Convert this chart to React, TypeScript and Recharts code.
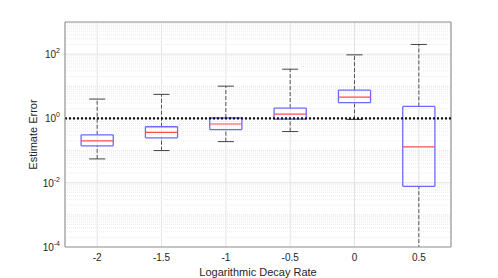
import React from 'react';
import {
  ComposedChart,
  XAxis,
  YAxis,
  CartesianGrid,
  ReferenceLine,
  Scatter,
} from 'recharts';

// decay rates (x positions of the boxes)
const rates = [-2, -1.5, -1, -0.5, 0, 0.5];
const whiskerLow = [0.055, 0.1, 0.19, 0.39, 0.93, 0.00001];
const q1 = [0.14, 0.25, 0.45, 0.95, 3.1, 0.0077];
const medians = [0.2, 0.37, 0.67, 1.37, 4.6, 0.13];
const q3 = [0.31, 0.55, 1.03, 2.1, 7.6, 2.36];
const whiskerHigh = [4.0, 5.6, 10.1, 34, 95, 200];

const yTicks = [1e-4, 1e-2, 1, 1e2];
const yExponents = ['-4', '-2', '0', '2'];
const oddDecades = [1e-3, 1e-1, 1e1];

// minor grid lines 2..9 in every decade
const minorGrid: number[] = [];
for (let k = -4; k <= 2; k++) {
  for (let m = 2; m <= 9; m++) minorGrid.push(m * Math.pow(10, k));
}

const BOX_HALF = 0.125;
const CAP_HALF = 0.0625;
const FONT = '"Liberation Sans", Arial, Helvetica, sans-serif';
const BOX_COLOR = '#6b6bff';

const YTick = (props: any) => {
  const { x, y, payload } = props;
  const idx = yTicks.indexOf(payload.value);
  return (
    <text x={x + 3} y={y + 4} textAnchor="end" fontSize={10} fill="#262626" fontFamily={FONT}>
      <tspan>10</tspan>
      <tspan dy={-5} fontSize={7}>{yExponents[idx]}</tspan>
    </text>
  );
};

export default function App() {
  const scatterData = rates.map((r, i) => ({ x: r, y: medians[i] }));
  return (
    <div style={{ position: 'absolute', left: 0, top: 0, background: '#fff' }}>
      <ComposedChart
        width={498}
        height={278}
        margin={{ top: 22, right: 47, bottom: 0, left: 0 }}
        style={{ fontFamily: FONT }}
      >
        <CartesianGrid horizontal={false} stroke="#e3e3e3" strokeDasharray="" />
        <XAxis
          type="number"
          dataKey="x"
          domain={[-2.25, 0.75]}
          ticks={rates}
          allowDataOverflow
          height={31}
          tickLine={false}
          axisLine={{ stroke: '#8a8a8a' }}
          tick={{ fontSize: 10, fill: '#262626' }}
          tickMargin={1}
          label={{
            value: 'Logarithmic Decay Rate',
            position: 'insideBottom',
            offset: 2,
            fontSize: 11,
            fill: '#262626',
          }}
        />
        <YAxis
          type="number"
          dataKey="y"
          scale="log"
          domain={[1e-4, 1e3]}
          ticks={yTicks}
          allowDataOverflow
          width={65}
          tickLine={false}
          axisLine={{ stroke: '#8a8a8a' }}
          tick={<YTick />}
          label={{
            value: 'Estimate Error',
            angle: -90,
            position: 'insideLeft',
            offset: 33,
            fontSize: 11,
            fill: '#262626',
            style: { textAnchor: 'middle' },
          }}
        />
        {minorGrid.map((v) => (
          <ReferenceLine key={'m' + v} y={v} stroke="#ececec" strokeDasharray="1 1" ifOverflow="hidden" />
        ))}
        {oddDecades.map((v) => (
          <ReferenceLine key={'o' + v} y={v} stroke="#e6e6e6" strokeDasharray="1 1" />
        ))}
        {yTicks.slice(1).map((v) => (
          <ReferenceLine key={'g' + v} y={v} stroke="#e3e3e3" />
        ))}
        {/* top and right frame */}
        <ReferenceLine y={1e3} stroke="#8a8a8a" />
        <ReferenceLine x={0.75} stroke="#8a8a8a" />

        {rates.map((r, i) => (
          <React.Fragment key={'w' + r}>
            <ReferenceLine
              segment={[{ x: r, y: whiskerLow[i] }, { x: r, y: q1[i] }]}
              stroke="#555"
              strokeDasharray="4 2"
              ifOverflow="hidden"
            />
            <ReferenceLine
              segment={[{ x: r, y: q3[i] }, { x: r, y: whiskerHigh[i] }]}
              stroke="#555"
              strokeDasharray="4 2"
              ifOverflow="hidden"
            />
            <ReferenceLine
              segment={[{ x: r - CAP_HALF, y: whiskerLow[i] }, { x: r + CAP_HALF, y: whiskerLow[i] }]}
              stroke="#444"
              ifOverflow="discard"
            />
            <ReferenceLine
              segment={[{ x: r - CAP_HALF, y: whiskerHigh[i] }, { x: r + CAP_HALF, y: whiskerHigh[i] }]}
              stroke="#444"
              ifOverflow="discard"
            />
          </React.Fragment>
        ))}
        {rates.map((r, i) => (
          <React.Fragment key={'b' + r}>
            <ReferenceLine
              segment={[{ x: r - BOX_HALF, y: q1[i] }, { x: r + BOX_HALF, y: q1[i] }]}
              stroke={BOX_COLOR}
              strokeWidth={1.3}
            />
            <ReferenceLine
              segment={[{ x: r - BOX_HALF, y: q3[i] }, { x: r + BOX_HALF, y: q3[i] }]}
              stroke={BOX_COLOR}
              strokeWidth={1.3}
            />
            <ReferenceLine
              segment={[{ x: r - BOX_HALF, y: q1[i] }, { x: r - BOX_HALF, y: q3[i] }]}
              stroke={BOX_COLOR}
              strokeWidth={1.3}
            />
            <ReferenceLine
              segment={[{ x: r + BOX_HALF, y: q1[i] }, { x: r + BOX_HALF, y: q3[i] }]}
              stroke={BOX_COLOR}
              strokeWidth={1.3}
            />
          </React.Fragment>
        ))}
        {rates.map((r, i) => (
          <ReferenceLine
            key={'md' + r}
            segment={[{ x: r - BOX_HALF, y: medians[i] }, { x: r + BOX_HALF, y: medians[i] }]}
            stroke="#ff4d4d"
            strokeWidth={1.2}
          />
        ))}
        <ReferenceLine y={1} stroke="#111" strokeWidth={2.2} strokeDasharray="2 2" />
        <Scatter data={scatterData} shape={() => <g />} isAnimationActive={false} />
      </ComposedChart>
    </div>
  );
}
